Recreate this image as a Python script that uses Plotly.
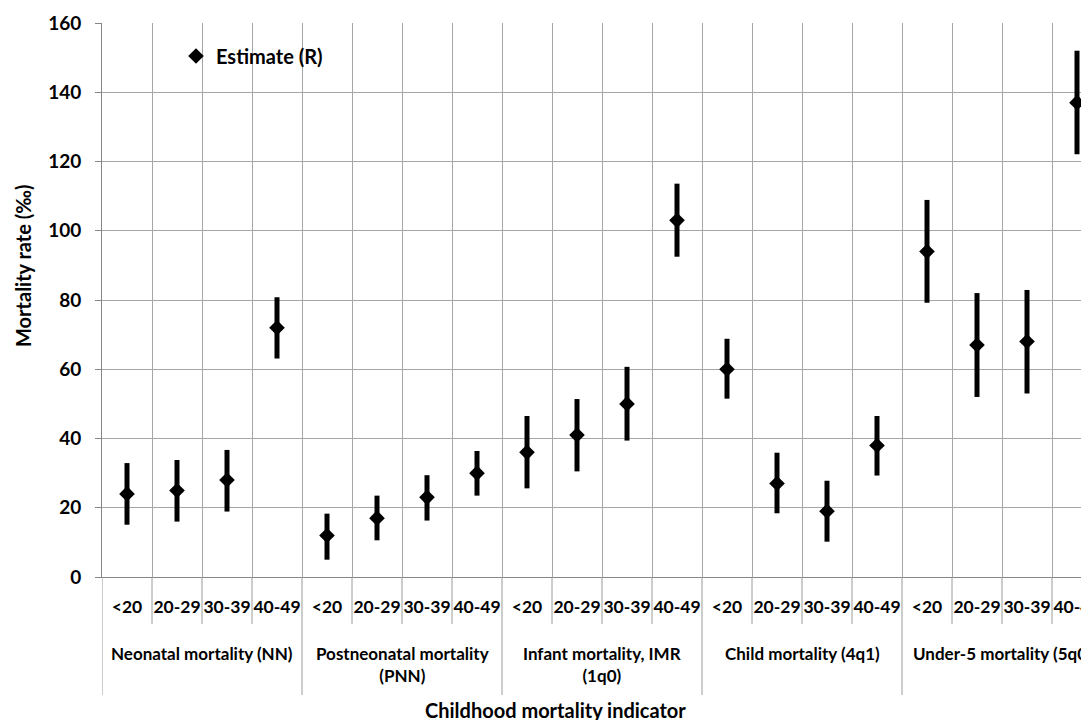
import plotly.graph_objects as go

# ---- data ----
groups = ["Neonatal mortality (NN)", "Postneonatal mortality<br>(PNN)",
          "Infant mortality, IMR<br>(1q0)", "Child mortality (4q1)",
          "Under-5 mortality (5q0)"]
age_groups = ["<20", "20-29", "30-39", "40-49"]
estimate = [24, 25, 28, 72, 12, 17, 23, 30, 36, 41, 50, 103, 60, 27, 19, 38, 94, 67, 68, 137]
ci_lower = [15.1, 16.0, 18.9, 63.1, 5.0, 10.6, 16.3, 23.5, 25.6, 30.5, 39.4, 92.5,
            51.5, 18.4, 10.2, 29.3, 79.2, 52.0, 53.0, 122.1]
ci_upper = [32.9, 33.8, 36.7, 80.8, 18.3, 23.5, 29.4, 36.4, 46.5, 51.4, 60.7, 113.6,
            68.8, 35.9, 27.8, 46.5, 108.9, 82.0, 82.9, 152.0]
y_ticks = [0, 20, 40, 60, 80, 100, 120, 140, 160]

FONT = "Lato"
n_age = len(age_groups)
n = len(groups) * n_age
xs = list(range(n))
ticktext = [a.replace("<", "&lt;") for a in age_groups] * len(groups)

fig = go.Figure()
fig.add_trace(go.Scatter(
    x=xs, y=estimate, mode="markers", name="Estimate (R)",
    marker=dict(symbol="diamond", size=12, color="black"),
    error_y=dict(type="data", symmetric=False,
                 array=[u - e for u, e in zip(ci_upper, estimate)],
                 arrayminus=[e - l for e, l in zip(estimate, ci_lower)],
                 thickness=5, width=0, color="black"),
    cliponaxis=False,
))

# page body has an 8px margin: figure drawn from (8, 8) on screen
OFF = 8
W, H = 1089 - OFF, 720 - OFF
L, T, B = 94, 15, 143
plot_h = H - T - B
plot_w = W - L
cat_px = 50.0
x_right = -0.5 + plot_w / cat_px

def py(screen_y):
    return (H - B - (screen_y - OFF)) / plot_h

def px(screen_x):
    return ((screen_x - OFF) - L) / plot_w

def f(size):
    return dict(family=FONT, size=size, color="black", weight="bold")

shapes = []
for b in range(n + 1):
    xb = b - 0.5
    is_group = (b % n_age == 0)
    shapes.append(dict(type="line", xref="x", yref="paper", x0=xb, x1=xb,
                       y0=0, y1=py(695) if is_group else py(624),
                       line=dict(color="#9a9a9a", width=1)))

annotations = []
for g, name in enumerate(groups):
    annotations.append(dict(x=g * n_age + (n_age - 1) / 2, xref="x", y=py(641), yref="paper",
                            text=name, showarrow=False, yanchor="top", xanchor="center",
                            font=f(17)))
annotations.append(dict(x=px(555), xref="paper", y=py(710), yref="paper",
                        text="Childhood mortality indicator", showarrow=False,
                        xanchor="center", yanchor="middle", font=f(20)))
annotations.append(dict(x=px(23), xref="paper", y=py(266), yref="paper",
                        text="Mortality rate (‰)", showarrow=False, textangle=-90,
                        xanchor="center", yanchor="middle", font=f(20)))

fig.update_layout(
    width=W, height=H,
    margin=dict(l=L, r=0, t=T, b=B, pad=0, autoexpand=False),
    paper_bgcolor="white", plot_bgcolor="white",
    font=f(18),
    showlegend=True,
    legend=dict(x=px(176), xanchor="left", y=py(56), yanchor="middle",
                bgcolor="rgba(0,0,0,0)", font=f(20)),
    xaxis=dict(range=[-0.5, x_right], tickmode="array", tickvals=xs, ticktext=ticktext,
               ticks="", showgrid=False, zeroline=False, showline=True, tickangle=0,
               automargin=False, tickfont=f(17.5), ticklabeloverflow="allow",
               linecolor="#868686", linewidth=1, ticklabelstandoff=14,
               minor=dict(tickmode="linear", tick0=0.5, dtick=1,
                          showgrid=True, gridcolor="#a6a6a6", gridwidth=1),
               fixedrange=True),
    yaxis=dict(range=[0, 160], tickmode="array", tickvals=y_ticks, automargin=False,
               tickfont=f(19),
               showgrid=True, gridcolor="#a6a6a6", gridwidth=1, zeroline=False,
               showline=True, linecolor="#868686", linewidth=1,
               ticks="outside", ticklen=6, tickcolor="#868686",
               ticklabelstandoff=10, fixedrange=True),
    shapes=shapes, annotations=annotations,
)

fig.write_html("out.html")
